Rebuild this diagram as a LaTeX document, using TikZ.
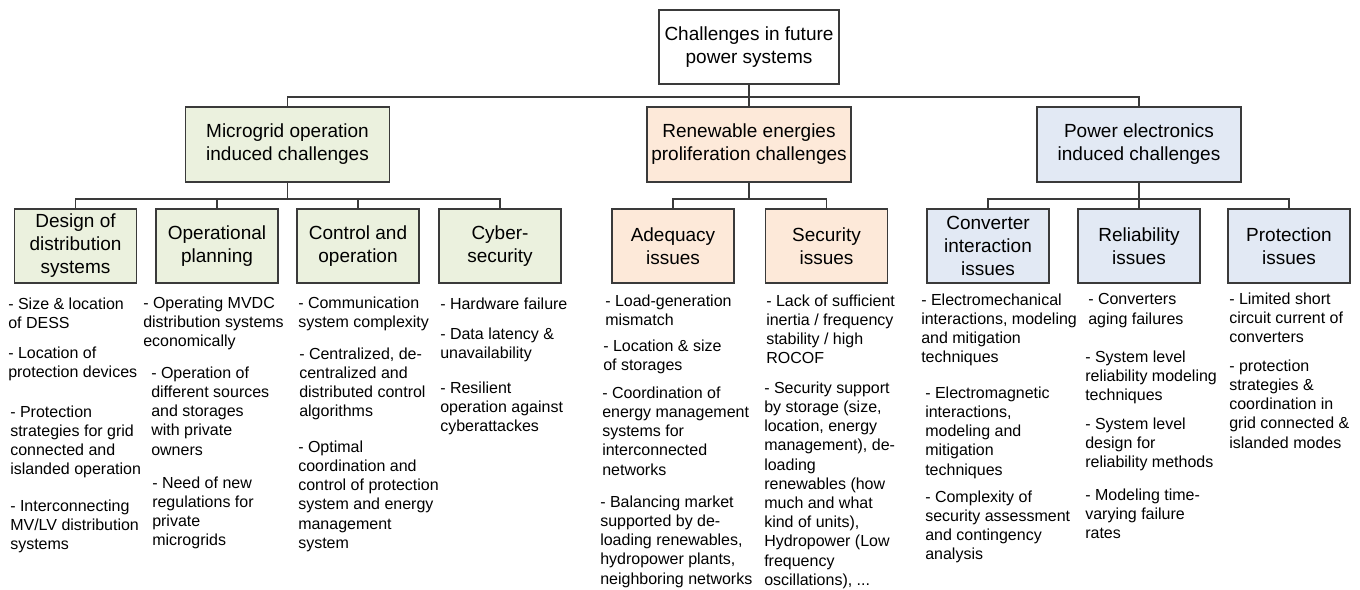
\documentclass[tikz,border=0pt]{standalone}
\usepackage{fontspec}
\setmainfont{Liberation Sans}
\definecolor{gfill}{HTML}{EBF1DE}
\definecolor{ofill}{HTML}{FDE9D9}
\definecolor{bfill}{HTML}{E2E9F4}
\definecolor{edgec}{HTML}{3A3A3A}
\begin{document}
\begin{tikzpicture}[x=0.75pt,y=-0.75pt,
  box/.style={draw=edgec, line width=0.8pt, inner sep=0pt, align=center,
    font=\fontsize{14.25}{17.25}\selectfont},
  topbox/.style={box, fill=white, minimum width=135pt, minimum height=55.5pt},
  lvtwo/.style={box, minimum width=153pt, minimum height=56.25pt},
  lvthree/.style={box, minimum width=91.5pt, minimum height=55.5pt},
  conn/.style={draw=edgec, line width=1pt},
  item/.style={anchor=north west, inner sep=0pt, align=left,
    font=\fontsize{12}{14.4}\selectfont,
    execute at begin node={\rule{0pt}{9pt}}}]
\fill[white] (0,0) rectangle (1360,589);
\useasboundingbox (0,0) rectangle (1360,589);

% top
\node[topbox] (top) at (749,47) {Challenges in future\\power systems};
% level 2
\node[lvtwo, fill=gfill] (mg) at (287.5,144.5) {Microgrid operation\\induced challenges};
\node[lvtwo, fill=ofill] (ren) at (749,144.5) {Renewable energies\\proliferation challenges};
\node[lvtwo, fill=bfill] (pe) at (1139,144.5) {Power electronics\\induced challenges};
% level 3
\node[lvthree, fill=gfill] (d1) at (75.5,246) {Design of\\distribution\\systems};
\node[lvthree, fill=gfill] (d2) at (217,246) {Operational\\planning};
\node[lvthree, fill=gfill] (d3) at (358,246) {Control and\\operation};
\node[lvthree, fill=gfill] (d4) at (500,246) {Cyber-\\security};
\node[lvthree, fill=ofill] (r1) at (673,246) {Adequacy\\issues};
\node[lvthree, fill=ofill] (r2) at (826.5,246) {Security\\issues};
\node[lvthree, fill=bfill] (p1) at (988,246) {Converter\\interaction\\issues};
\node[lvthree, fill=bfill] (p2) at (1139,246) {Reliability\\issues};
\node[lvthree, fill=bfill] (p3) at (1289,246) {Protection\\issues};

% bus coordinates
\coordinate (b1) at (749,97);
\coordinate (b2) at (287.5,199);
\coordinate (b3) at (749,199);
\coordinate (b4) at (1139,199);

% connectors
\draw[conn] (top.south) -- (ren.north);
\draw[conn] (mg.north) |- (b1) -| (pe.north);
\draw[conn] (mg.south) -- (b2);
\draw[conn] (d1.north) |- (b2) -| (d4.north);
\draw[conn] (d2.north) -- (d2.north |- b2);
\draw[conn] (d3.north) -- (d3.north |- b2);
\draw[conn] (ren.south) -- (b3);
\draw[conn] (r1.north) |- (b3) -| (r2.north);
\draw[conn] (pe.south) -- (p2.north);
\draw[conn] (p1.north) |- (b4) -| (p3.north);

% column 1
\node[item] (i1a) at (8,297.5) {- Size \& location\\of DESS};
\node[item] (i1b) at (8,346.5) {- Location of\\protection devices};
\node[item] (i1c) at (10,405.5) {- Protection\\strategies for grid\\connected and\\islanded operation};
\node[item] (i1d) at (10,499.5) {- Interconnecting\\MV/LV distribution\\systems};
% column 2
\node[item] (i2a) at (143,296.5) {- Operating MVDC\\distribution systems\\economically};
\node[item] (i2b) at (151,366.5) {- Operation of\\different sources\\and storages\\with private\\owners};
\node[item] (i2c) at (152,476.5) {- Need of new\\regulations for\\private\\microgrids};
% column 3
\node[item] (i3a) at (298,296.5) {- Communication\\system complexity};
\node[item] (i3b) at (299,347.5) {- Centralized, de-\\centralized and\\distributed control\\algorithms};
\node[item] (i3c) at (298,440.5) {- Optimal\\coordination and\\control of protection\\system and energy\\management\\system};
% column 4
\node[item] (i4a) at (440,297.5) {- Hardware failure};
\node[item] (i4b) at (440,327.5) {- Data latency \&\\unavailability};
\node[item] (i4c) at (440,381.5) {- Resilient\\operation against\\cyberattackes};
% column 5
\node[item] (i5a) at (605,294.5) {- Load-generation\\mismatch};
\node[item] (i5b) at (603,339.5) {- Location \& size\\of storages};
\node[item] (i5c) at (602,386.5) {- Coordination of\\energy management\\systems for\\interconnected\\networks};
\node[item] (i5d) at (600,495.5) {- Balancing market\\supported by de-\\loading renewables,\\hydropower plants,\\neighboring networks};
% column 6
\node[item] (i6a) at (766,294.5) {- Lack of sufficient\\inertia / frequency\\stability / high\\ROCOF};
\node[item] (i6b) at (764,381.5) {- Security support\\by storage (size,\\location, energy\\management), de-\\loading\\renewables (how\\much and what\\kind of units),\\Hydropower (Low\\frequency\\oscillations), ...};
% column 7
\node[item] (i7a) at (921,293.5) {- Electromechanical\\interactions, modeling\\and mitigation\\techniques};
\node[item] (i7b) at (925,386.5) {- Electromagnetic\\interactions,\\modeling and\\mitigation\\techniques};
\node[item] (i7c) at (925,490.5) {- Complexity of\\security assessment\\and contingency\\analysis};
% column 8
\node[item] (i8a) at (1088,293.5) {- Converters\\aging failures};
\node[item] (i8b) at (1085,350.5) {- System level\\reliability modeling\\techniques};
\node[item] (i8c) at (1085,417.5) {- System level\\design for\\reliability methods};
\node[item] (i8d) at (1085,488.5) {- Modeling time-\\varying failure\\rates};
% column 9
\node[item] (i9a) at (1229,292.5) {- Limited short\\circuit current of\\converters};
\node[item] (i9b) at (1229,359.5) {- protection\\strategies \&\\coordination in\\grid connected \&\\islanded modes};
\end{tikzpicture}
\end{document}
